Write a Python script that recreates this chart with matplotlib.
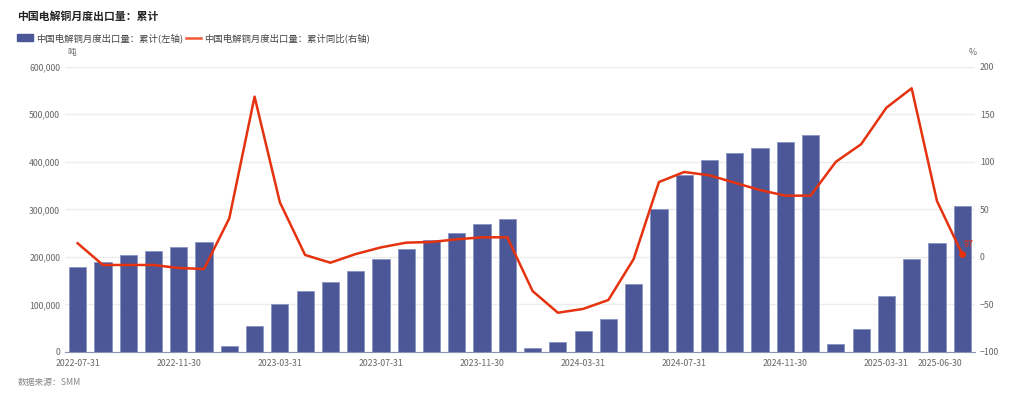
import matplotlib.pyplot as plt
import numpy as np

plt.rcParams['font.family'] = ['Noto Sans CJK SC', 'DejaVu Sans']

# monthly cumulative export (tonnes) and YoY (%)
months = ['2022-07-31', '2022-08-31', '2022-09-30', '2022-10-31', '2022-11-30', '2022-12-31',
          '2023-01-31', '2023-02-28', '2023-03-31', '2023-04-30', '2023-05-31', '2023-06-30',
          '2023-07-31', '2023-08-31', '2023-09-30', '2023-10-31', '2023-11-30', '2023-12-31',
          '2024-01-31', '2024-02-29', '2024-03-31', '2024-04-30', '2024-05-31', '2024-06-30',
          '2024-07-31', '2024-08-31', '2024-09-30', '2024-10-31', '2024-11-30', '2024-12-31',
          '2025-01-31', '2025-02-28', '2025-03-31', '2025-04-30', '2025-05-31', '2025-06-30']
volume = [179000, 189000, 203000, 212000, 221000, 231000,
          12600, 54700, 101600, 129000, 146500, 169600,
          196000, 216600, 235000, 251000, 268500, 279000,
          7700, 21700, 45000, 70000, 143700, 301500,
          371500, 403000, 418500, 429000, 441000, 457000,
          16000, 49000, 117000, 195000, 228500, 307700]
yoy = [14.3, -8.5, -8.5, -8.5, -11.7, -12.7,
       40.6, 168.5, 57.5, 2.0, -6.1, 3.0,
       10.0, 15.0, 15.7, 18.5, 20.6, 20.6,
       -35.9, -58.7, -54.7, -45.3, -2.2, 78.7,
       89.3, 85.8, 78.0, 70.3, 64.4, 64.4,
       100.0, 118.5, 156.9, 177.3, 58.8, 2.97]
shown_ticks = ['2022-07-31', '2022-11-30', '2023-03-31', '2023-07-31', '2023-11-30',
               '2024-03-31', '2024-07-31', '2024-11-30', '2025-03-31', '2025-06-30']

bar_color = '#4c5797'
line_color = '#e5320f'
grid_color = '#ececec'
text_color = '#666666'

fig = plt.figure(figsize=(10.24, 3.99), dpi=100)
ax = fig.add_axes([0.0635, 0.1178, 0.8885, 0.715])
ax2 = ax.twinx()

x = np.arange(len(months))
ax.bar(x, volume, width=0.68, color=bar_color, edgecolor='#8a93c4', linewidth=0.6, zorder=2)
ax.set_xlim(-0.5, len(months) - 0.5)
ax.set_ylim(0, 600000)
ax.set_yticks(np.arange(0, 600001, 100000))
ax.set_yticklabels([f'{v:,}' for v in range(0, 600001, 100000)])
ax.grid(axis='y', color=grid_color, linewidth=1, zorder=0)
ax.set_axisbelow(True)

ax2.plot(x, yoy, color=line_color, linewidth=1.8, zorder=3)
ax2.plot(x[-1], yoy[-1], 'o', color=line_color, markersize=4)
ax2.text(x[-1] + 0.05, yoy[-1] + 5, '97', color=line_color, fontsize=6.5, va='bottom', ha='left')
ax2.set_ylim(-100, 200)
ax2.set_yticks(np.arange(-100, 201, 50))

tick_pos = [months.index(m) for m in shown_ticks]
ax.set_xticks(tick_pos)
ax.set_xticklabels(shown_ticks)
ax.get_xticklabels()[-1].set_horizontalalignment('right')

for a in (ax, ax2):
    for s in a.spines.values():
        s.set_visible(False)
    a.tick_params(length=0, labelsize=6.3, colors=text_color, pad=3.5)
ax.spines['bottom'].set_visible(True)
ax.spines['bottom'].set_color('#8c93b0')
ax.tick_params(axis='x', length=0, pad=5)

fig.text(0.017, 0.957, '中国电解铜月度出口量：累计', fontsize=7.8, fontweight='bold', color='#222222', va='center')
# legend drawn manually
fig.patches.append(plt.Rectangle((0.017, 0.898), 0.015, 0.016, transform=fig.transFigure,
                                 color=bar_color, figure=fig))
fig.text(0.035, 0.905, '中国电解铜月度出口量：累计(左轴)', fontsize=6.75, color='#444444', va='center')
fig.lines.append(plt.Line2D([0.182, 0.196], [0.905, 0.905], transform=fig.transFigure,
                            color='#f05a3a', linewidth=1.8, figure=fig))
fig.text(0.199, 0.905, '中国电解铜月度出口量：累计同比(右轴)', fontsize=6.75, color='#444444', va='center')

fig.text(0.066, 0.868, '吨', fontsize=6.3, color=text_color, va='center')
fig.text(0.946, 0.868, '%', fontsize=6.3, color=text_color, va='center')
fig.text(0.017, 0.042, '数据来源：SMM', fontsize=6.3, color='#888888', style='italic', va='center')

fig.savefig('out.png', dpi=100)
